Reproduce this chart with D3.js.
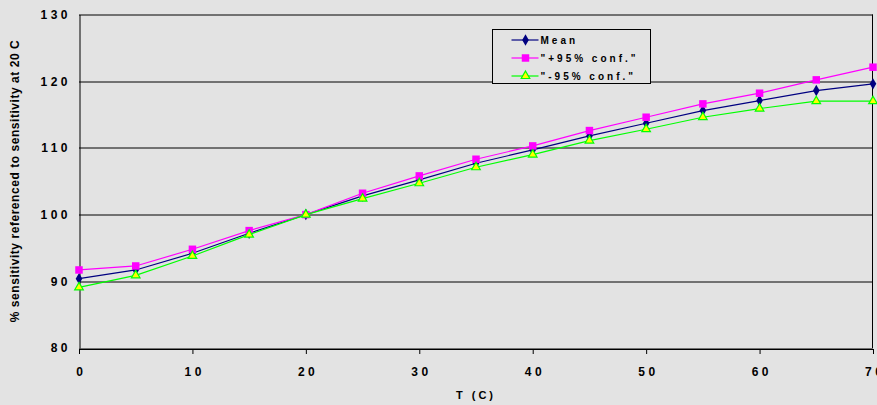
<!DOCTYPE html>
<html>
<head>
<meta charset="utf-8">
<script src="https://cdn.jsdelivr.net/npm/d3@7"></script>
<style>
  body { margin: 0; background: #e3e3e3; }
  svg { display: block; font-family: Arial, "Liberation Sans", sans-serif; font-weight: bold; }
</style>
</head>
<body>
<script>
// Data
const temps = [0, 5, 10, 15, 20, 25, 30, 35, 40, 45, 50, 55, 60, 65, 70];
const meanVals = [90.4, 91.7, 94.2, 97.2, 100, 102.8, 105.2, 107.7, 109.7, 111.8, 113.7, 115.6, 117.1, 118.6, 119.6];
const upperVals = [91.7, 92.3, 94.8, 97.6, 100, 103.2, 105.8, 108.3, 110.3, 112.6, 114.6, 116.6, 118.2, 120.2, 122.1];
const lowerVals = [89.1, 90.9, 93.8, 97.0, 100, 102.4, 104.7, 107.1, 109.0, 111.1, 112.8, 114.6, 115.9, 117.0, 117.0];
const xTicks = [0, 10, 20, 30, 40, 50, 60, 70];
const yTicks = [80, 90, 100, 110, 120, 130];
const seriesNames = ["Mean", "\"+95% conf.\"", "\"-95% conf.\""];

const width = 877, height = 405;
const margin = { top: 14.5, right: 4, bottom: 57, left: 79 };
const innerWidth = width - margin.left - margin.right;
const innerHeight = height - margin.top - margin.bottom;

const svg = d3.select('body').append('svg')
    .attr('width', width)
    .attr('height', height);

svg.append('rect').attr('width', width).attr('height', height).attr('fill', '#e3e3e3');

const g = svg.append('g').attr('transform', `translate(${margin.left},${margin.top})`);

const x = d3.scaleLinear().domain([0, 70]).range([0, innerWidth]);
const y = d3.scaleLinear().domain([80, 130]).range([innerHeight, 0]);

// Gridlines
g.append('g')
    .selectAll('line')
    .data(yTicks)
    .join('line')
    .attr('x1', 0).attr('x2', innerWidth)
    .attr('y1', d => Math.round(y(d)) + 0.5).attr('y2', d => Math.round(y(d)) + 0.5)
    .attr('stroke', '#000').attr('stroke-width', 1);

// Right border
g.append('line')
    .attr('x1', Math.round(innerWidth) - 0.5).attr('x2', Math.round(innerWidth) - 0.5)
    .attr('y1', y(130)).attr('y2', y(80))
    .attr('stroke', '#000');

// X axis
const xAxis = g.append('g')
    .attr('transform', `translate(0,${Math.round(innerHeight) + 0.5})`)
    .call(d3.axisBottom(x).tickValues(xTicks).tickSize(5).tickSizeOuter(0).tickPadding(13));
xAxis.select('.domain').attr('stroke', '#000');
xAxis.selectAll('.tick line').attr('stroke', '#000');
xAxis.selectAll('.tick text')
    .attr('font-size', 12).attr('font-weight', 'bold').attr('font-family', 'Arial, "Liberation Sans", sans-serif')
    .attr('letter-spacing', '3.5px').attr('dx', '1.75px').attr('fill', '#000');

// Y axis
const yAxis = g.append('g')
    .attr('transform', 'translate(0.5,0)')
    .call(d3.axisLeft(y).tickValues(yTicks).tickSize(0).tickPadding(12));
yAxis.select('.domain').attr('stroke', '#000');
yAxis.selectAll('.tick text')
    .attr('font-size', 12).attr('font-weight', 'bold').attr('font-family', 'Arial, "Liberation Sans", sans-serif')
    .attr('letter-spacing', '3.5px').attr('dx', '3.5px').attr('fill', '#000');

// Axis titles
svg.append('text')
    .attr('x', margin.left + innerWidth / 2)
    .attr('y', 399)
    .attr('text-anchor', 'middle')
    .attr('font-size', 11)
    .attr('letter-spacing', '3px')
    .text('T (C)');

svg.append('text')
    .attr('transform', `translate(18.5,${margin.top + innerHeight / 2}) rotate(-90)`)
    .attr('text-anchor', 'middle')
    .attr('font-size', 12)
    .attr('textLength', 282)
    .attr('lengthAdjust', 'spacing')
    .text('% sensitivity referenced to sensitivity at 20 C');

// Series
const series = [
    { name: seriesNames[0], values: meanVals, color: '#000080', marker: 'diamond', fill: '#000080' },
    { name: seriesNames[1], values: upperVals, color: '#ff00ff', marker: 'square', fill: '#ff00ff' },
    { name: seriesNames[2], values: lowerVals, color: '#00ff00', marker: 'triangle', fill: '#ffff00' }
];

const symbolFor = {
    diamond: d3.symbol().type(d3.symbolDiamond).size(38),
    square: d3.symbol().type(d3.symbolSquare).size(56),
    triangle: d3.symbol().type(d3.symbolTriangle).size(32)
};

const line = d3.line().x((d, i) => x(temps[i])).y(d => y(d));

series.forEach(s => {
    g.append('path')
        .datum(s.values)
        .attr('fill', 'none')
        .attr('stroke', s.color)
        .attr('stroke-width', 1.2)
        .attr('d', line);
    g.append('g')
        .selectAll('path')
        .data(s.values)
        .join('path')
        .attr('transform', (d, i) => `translate(${x(temps[i])},${y(d)})`)
        .attr('d', symbolFor[s.marker])
        .attr('fill', s.fill)
        .attr('stroke', s.marker === 'triangle' ? s.color : 'none')
        .attr('stroke-width', 1.2);
});

// Legend
const legend = svg.append('g').attr('transform', 'translate(492.5,29.5)');
legend.append('rect')
    .attr('width', 158).attr('height', 54)
    .attr('fill', '#e3e3e3').attr('stroke', '#000');

series.forEach((s, i) => {
    const row = legend.append('g').attr('transform', `translate(0,${10.5 + i * 18})`);
    row.append('line')
        .attr('x1', 19).attr('x2', 46)
        .attr('stroke', s.color).attr('stroke-width', 1.2);
    row.append('path')
        .attr('transform', 'translate(33,0)')
        .attr('d', symbolFor[s.marker])
        .attr('fill', s.fill)
        .attr('stroke', s.marker === 'triangle' ? s.color : 'none')
        .attr('stroke-width', 1.2);
    row.append('text')
        .attr('x', 48).attr('y', 3.5)
        .attr('font-size', 10)
        .attr('letter-spacing', '3px')
        .text(s.name);
});
</script>
</body>
</html>
